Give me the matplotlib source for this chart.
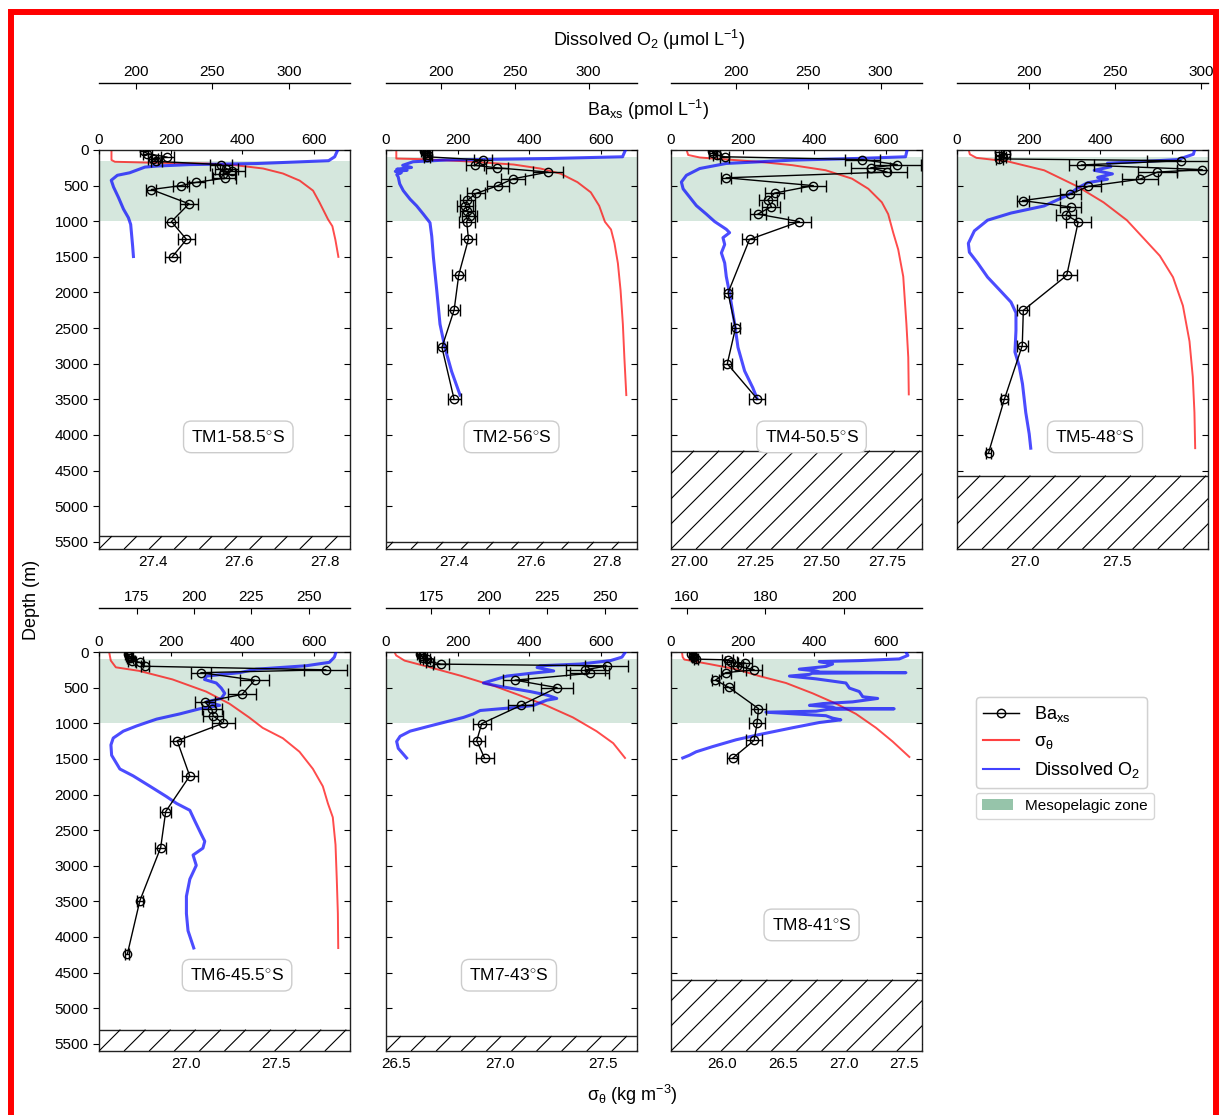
import matplotlib
matplotlib.use("Agg")
import matplotlib.pyplot as plt
import numpy as np
from matplotlib.lines import Line2D
from matplotlib.patches import Patch, Rectangle
from matplotlib.collections import LineCollection

plt.rcParams['font.family'] = ['Liberation Sans', 'DejaVu Sans']
plt.rcParams['mathtext.fontset'] = 'custom'
plt.rcParams['mathtext.rm'] = 'Liberation Sans'
plt.rcParams['mathtext.it'] = 'Liberation Sans:italic'
plt.rcParams['mathtext.bf'] = 'Liberation Sans:bold'

# ---------------- data ----------------
stations = ['TM1-58.5', 'TM2-56', 'TM4-50.5', 'TM5-48', 'TM6-45.5', 'TM7-43', 'TM8-41']
seafloor = [5420, 5500, 4220, 4570, 5300, 5390, 4600]
meso_top = [150, 100, 100, 100, 100, 100, 100]
meso_bottom = 1000
depth_ticks = [0, 500, 1000, 1500, 2000, 2500, 3000, 3500, 4000, 4500, 5000, 5500]
ba_ticks = [0, 200, 400, 600]

# TM1
ba_depth_tm1 = [20, 50, 100, 125, 160, 205, 260, 295, 330, 395, 455, 500, 555, 755, 1005, 1255, 1495]
ba_tm1 = [125, 135, 190, 150, 160, 340, 355, 372, 346, 350, 270, 228, 146, 251, 202, 244, 205]
err_tm1 = [12, 12, 18, 14, 15, 30, 32, 35, 32, 32, 25, 22, 14, 24, 18, 24, 20]
sig_depth_tm1 = [0, 140, 165, 180, 190, 215, 260, 330, 430, 570, 735, 975, 1070, 1260, 1500]
sig_tm1 = [27.303, 27.303, 27.311, 27.408, 27.524, 27.594, 27.656, 27.702, 27.741, 27.772, 27.787, 27.807, 27.817, 27.824, 27.831]
o2_depth_tm1 = [0, 95, 150, 190, 205, 225, 240, 320, 355, 425, 520, 665, 830, 950, 1045, 1210, 1355, 1495]
o2_tm1 = [332, 330, 326, 279, 235, 214, 206, 196, 188, 184, 185.5, 188.7, 192, 195.2, 196.7, 197.4, 198, 198.5]

# TM2
ba_depth_tm2 = [20, 45, 70, 95, 140, 215, 250, 310, 405, 500, 610, 705, 785, 855, 925, 1005, 1250, 1750, 2245, 2770, 3500]
ba_tm2 = [105, 112, 118, 114, 270, 247, 309, 452, 354, 312, 251, 227, 221, 227, 233, 225, 230, 203, 190, 156, 190]
err_tm2 = [8, 8, 9, 9, 25, 25, 30, 43, 33, 30, 24, 22, 22, 22, 22, 22, 22, 18, 17, 14, 18]
sig_depth_tm2 = [0, 120, 128, 157, 204, 261, 332, 451, 594, 783, 1007, 1116, 1306, 1591, 1970, 2445, 2920, 3440]
sig_tm2 = [27.248, 27.248, 27.310, 27.424, 27.555, 27.626, 27.678, 27.722, 27.757, 27.779, 27.794, 27.810, 27.819, 27.828, 27.835, 27.841, 27.845, 27.850]
o2_depth_tm2 = [0, 95, 120, 140, 165, 215, 245, 270, 285, 300, 320, 345, 380, 475, 570, 690, 785, 900, 1020, 1210, 1500, 1970, 2445, 2780, 3110, 3440]
o2_tm2 = [325, 323, 272, 204, 181, 174, 180, 170, 177, 169, 173, 170, 171, 172, 174.4, 179, 183.5, 188, 192.5, 193.7, 194.8, 197.1, 199.3, 202.7, 207.2, 212.9]

# TM4
ba_depth_tm4 = [20, 45, 70, 95, 135, 205, 250, 310, 390, 500, 605, 700, 795, 900, 1005, 1255, 2005, 2495, 3000, 3490]
ba_tm4 = [115, 117, 127, 150, 534, 631, 557, 603, 154, 397, 289, 270, 280, 242, 358, 219, 159, 180, 157, 240]
err_tm4 = [10, 10, 11, 12, 50, 65, 55, 55, 14, 35, 27, 25, 25, 23, 33, 20, 12, 12, 12, 22]
sig_depth_tm4 = [0, 70, 105, 133, 166, 213, 284, 402, 545, 734, 900, 1160, 1397, 1776, 2440, 2910, 3430]
sig_tm4 = [26.989, 26.995, 27.039, 27.139, 27.264, 27.389, 27.515, 27.615, 27.677, 27.728, 27.752, 27.771, 27.790, 27.809, 27.821, 27.828, 27.830]
o2_depth_tm4 = [0, 95, 118, 142, 189, 260, 355, 450, 545, 663, 781, 900, 1004, 1113, 1160, 1231, 1326, 1444, 1586, 1776, 2012, 2438, 2770, 3101, 3338, 3490]
o2_tm4 = [318.4, 317.3, 285, 239, 193, 174.7, 165.5, 162, 163.2, 167.8, 172.4, 179.3, 185, 193.1, 195.4, 190.8, 192, 189.7, 192, 193.1, 195.4, 198.9, 201.2, 205.8, 211.5, 214.5]

# TM5
ba_depth_tm5 = [30, 60, 100, 125, 150, 210, 275, 310, 410, 510, 620, 710, 800, 910, 1010, 1760, 2250, 2745, 3500, 4250]
ba_tm5 = [118, 136, 127, 118, 625, 347, 684, 559, 510, 366, 316, 183, 317, 304, 338, 306, 185, 182, 132, 88]
err_tm5 = [12, 12, 11, 10, 95, 35, 70, 55, 50, 35, 30, 17, 30, 28, 35, 28, 17, 16, 10, 8]
sig_depth_tm5 = [0, 60, 110, 160, 285, 510, 735, 985, 1235, 1485, 1785, 2185, 2685, 3185, 3685, 4185]
sig_tm5 = [26.691, 26.697, 26.733, 26.904, 27.103, 27.283, 27.427, 27.554, 27.644, 27.734, 27.806, 27.860, 27.896, 27.914, 27.923, 27.927]
o2_depth_tm5 = [0, 60, 135, 160, 185, 235, 285, 335, 385, 410, 460, 535, 635, 785, 885, 985, 1135, 1310, 1435, 1585, 1785, 1985, 2135, 2285, 2535, 2835, 3035, 3285, 3685, 3985, 4185]
o2_tm5 = [296.2, 295.5, 286.2, 266.8, 245.5, 247.5, 237.8, 248.4, 239.8, 245.5, 233.9, 228.1, 222.3, 208.7, 189.4, 175.8, 168.1, 164.6, 165.2, 170, 175.8, 183.6, 189.4, 192.3, 192.3, 191.7, 194.2, 196.1, 198, 200, 200.9]

# TM6
ba_depth_tm6 = [30, 50, 85, 120, 145, 200, 250, 290, 395, 595, 700, 805, 895, 1000, 1245, 1740, 2240, 2745, 3490, 4240]
ba_tm6 = [80, 84, 87, 91, 114, 128, 633, 284, 434, 399, 295, 315, 318, 346, 218, 253, 186, 172, 114, 79]
err_tm6 = [8, 8, 8, 9, 10, 11, 60, 28, 40, 38, 28, 28, 28, 32, 20, 22, 16, 15, 8, 6]
sig_depth_tm6 = [0, 120, 215, 265, 385, 555, 725, 920, 1065, 1210, 1400, 1640, 1885, 2125, 2320, 2705, 3190, 3670, 4155]
sig_tm6 = [26.576, 26.585, 26.613, 26.742, 26.926, 27.111, 27.240, 27.350, 27.424, 27.535, 27.627, 27.701, 27.756, 27.784, 27.811, 27.826, 27.833, 27.839, 27.841]
o2_depth_tm6 = [0, 72, 145, 193, 241, 290, 338, 386, 435, 507, 580, 652, 700, 749, 797, 869, 942, 1038, 1111, 1208, 1304, 1449, 1642, 1739, 1884, 2029, 2125, 2222, 2367, 2560, 2657, 2753, 2850, 2995, 3188, 3429, 3671, 3912, 4057, 4154]
o2_tm6 = [261.9, 261.2, 259.0, 248.9, 227.1, 219.9, 205.4, 204.6, 209.7, 211.9, 213.4, 211.9, 205.4, 211.2, 202.5, 193.8, 183.7, 175.0, 169.2, 164.8, 163.8, 164.1, 167.7, 173.5, 180.8, 188.0, 192.4, 198.2, 200.3, 203.2, 204.7, 203.9, 199.6, 201.0, 198.2, 196.7, 196.7, 197.4, 198.9, 199.9]

# TM7
ba_depth_tm7 = [25, 55, 85, 105, 135, 170, 195, 250, 300, 395, 500, 750, 1005, 1245, 1490]
ba_tm7 = [95, 100, 104, 114, 123, 153, 616, 556, 568, 360, 477, 376, 267, 253, 275]
err_tm7 = [8, 8, 9, 10, 11, 22, 60, 55, 55, 35, 45, 35, 25, 22, 25]
sig_depth_tm7 = [0, 48, 121, 208, 338, 483, 604, 749, 918, 1111, 1280, 1487]
sig_tm7 = [26.492, 26.500, 26.541, 26.655, 26.818, 26.980, 27.094, 27.225, 27.355, 27.469, 27.550, 27.607]
o2_depth_tm7 = [0, 72, 121, 169, 193, 217, 266, 300, 338, 435, 483, 555, 604, 652, 676, 749, 773, 821, 869, 918, 966, 1038, 1111, 1183, 1256, 1352, 1487]
o2_tm7 = [259, 257.5, 252.5, 239.5, 222.2, 220.8, 228, 217.8, 207.7, 197.6, 204.8, 217.8, 225, 229.3, 225, 219.3, 213.5, 196.2, 193.3, 189, 183.2, 174.5, 165.9, 161.6, 160.1, 160.8, 164.4]

# TM8
ba_depth_tm8 = [25, 50, 70, 100, 110, 145, 155, 195, 250, 290, 395, 495, 795, 1000, 1240, 1490]
ba_tm8 = [56, 60, 65, 70, 158, 167, 207, 183, 232, 153, 124, 161, 244, 240, 232, 172]
err_tm8 = [5, 5, 6, 6, 15, 16, 20, 17, 22, 14, 11, 15, 22, 22, 22, 16]
sig_depth_tm8 = [0, 72, 106, 169, 241, 338, 435, 580, 724, 869, 1063, 1256, 1473]
sig_tm8 = [25.670, 25.676, 25.690, 25.895, 26.115, 26.307, 26.526, 26.745, 26.937, 27.102, 27.266, 27.403, 27.541]
o2_depth_tm8 = [0, 48, 97, 121, 135, 169, 203, 241, 266, 282, 290, 298, 314, 338, 377, 435, 507, 555, 628, 652, 700, 724, 749, 773, 790, 797, 805, 831, 845, 894, 928, 952, 990, 1063, 1159, 1232, 1328, 1401, 1449, 1487]
o2_tm8 = [215.9, 216.4, 214.2, 204, 193.8, 197.2, 195.5, 188.7, 193, 194, 215.9, 192, 191.3, 186.2, 193, 200.6, 201.5, 204, 204.9, 208.7, 202.3, 194.7, 191.3, 197.2, 198, 212.9, 196, 193, 180.2, 195.5, 197.2, 199.3, 193.8, 187, 178.5, 172.6, 166.6, 162.4, 160.7, 159]

sig_ticks = [[27.4, 27.6, 27.8], [27.4, 27.6, 27.8], [27.00, 27.25, 27.50, 27.75],
             [27.0, 27.5], [27.0, 27.5], [26.5, 27.0, 27.5], [26.0, 26.5, 27.0, 27.5]]
sig_fmt = ['%.1f', '%.1f', '%.2f', '%.1f', '%.1f', '%.1f', '%.1f']
o2_ticks = [[200, 250, 300], [200, 250, 300], [200, 250, 300], [200, 250, 300],
            [175, 200, 225, 250], [175, 200, 225, 250], [160, 180, 200]]

ba_depths = [ba_depth_tm1, ba_depth_tm2, ba_depth_tm4, ba_depth_tm5, ba_depth_tm6, ba_depth_tm7, ba_depth_tm8]
ba_vals = [ba_tm1, ba_tm2, ba_tm4, ba_tm5, ba_tm6, ba_tm7, ba_tm8]
ba_errs = [err_tm1, err_tm2, err_tm4, err_tm5, err_tm6, err_tm7, err_tm8]
sig_depths = [sig_depth_tm1, sig_depth_tm2, sig_depth_tm4, sig_depth_tm5, sig_depth_tm6, sig_depth_tm7, sig_depth_tm8]
sig_vals = [sig_tm1, sig_tm2, sig_tm4, sig_tm5, sig_tm6, sig_tm7, sig_tm8]
o2_depths = [o2_depth_tm1, o2_depth_tm2, o2_depth_tm4, o2_depth_tm5, o2_depth_tm6, o2_depth_tm7, o2_depth_tm8]
o2_vals = [o2_tm1, o2_tm2, o2_tm4, o2_tm5, o2_tm6, o2_tm7, o2_tm8]

# ---------------- layout / scales ----------------
W, H = 1219, 1115
sig_lims = [(27.274, 27.858), (27.221, 27.878), (26.93, 27.88), (26.627, 27.997),
            (26.52, 27.906), (26.451, 27.665), (25.58, 27.645)]
o2_lims = [(176, 340), (162.7, 332.8), (154.8, 328.7), (158, 304),
           (158.6, 268), (155.5, 264), (156, 220)]
ba_lim = (0, 700)
depth_lim = (5600, 0)
col_left = [99, 386, 671, 957]
row_top = [150, 652]
pw, ph = 251, 399
label_pos = [(0.555, 0.281), (0.50, 0.281), (0.56, 0.281), (0.55, 0.281),
             (0.55, 0.19), (0.49, 0.19), (0.56, 0.316)]
o2_offset = [1 + 67 / ph, 1 + 44 / ph]

GREEN = '#2e8b57'
fig = plt.figure(figsize=(W / 100, H / 100), dpi=100)

for i in range(7):
    r, c = (0, i) if i < 4 else (1, i - 4)
    l = col_left[c]
    t = row_top[r]
    rect = [l / W, 1 - (t + ph) / H, pw / W, ph / H]
    ax = fig.add_axes(rect)
    axo = ax.twiny()
    axb = ax.twiny()

    # sigma (bottom) axis = main
    ax.axhspan(meso_top[i], meso_bottom, color=GREEN, alpha=0.2, lw=0, zorder=0)
    ax.plot(sig_vals[i], sig_depths[i], color='red', alpha=0.7, lw=1.4, zorder=2)
    ax.set_xlim(*sig_lims[i])
    ax.set_ylim(*depth_lim)
    ax.set_xticks(sig_ticks[i])
    ax.set_xticklabels([sig_fmt[i] % v for v in sig_ticks[i]])
    ax.tick_params(axis='x', direction='in', length=4, labelsize=11, pad=4)
    ax.set_yticks(depth_ticks)
    ax.tick_params(axis='y', left=True, right=False, direction='out' if c == 0 else 'in',
                   length=4, labelsize=11, labelleft=(c == 0))
    for s in ax.spines.values():
        s.set_linewidth(1.0)
        s.set_color('#222222')

    # O2 axis (offset top)
    axo.plot(o2_vals[i], o2_depths[i], color='blue', alpha=0.7, lw=2.2, zorder=2)
    axo.set_xlim(*o2_lims[i])
    axo.set_xticks(o2_ticks[i])
    axo.spines['top'].set_position(('axes', o2_offset[r]))
    for k in ['left', 'right', 'bottom']:
        axo.spines[k].set_visible(False)
    axo.spines['top'].set_linewidth(1.0)
    axo.tick_params(axis='x', direction='in', length=4, labelsize=11, pad=3)

    # Ba axis (top)
    axb.errorbar(ba_vals[i], ba_depths[i], xerr=ba_errs[i], fmt='-o', color='black',
                 mfc='none', mec='black', ms=6, mew=1, lw=1, elinewidth=1, capsize=4,
                 zorder=5)
    axb.set_xlim(*ba_lim)
    axb.set_xticks(ba_ticks)
    for s in axb.spines.values():
        s.set_visible(False)
    axb.tick_params(axis='x', direction='in', length=3, labelsize=11, pad=2)
    axb.yaxis.set_visible(True)
    axb.yaxis.tick_right()
    axb.tick_params(axis='y', direction='in', length=4, labelright=False, labelleft=False)
    axb.set_ylim(*depth_lim)

    # seafloor hatch
    sf = axb.axhspan(seafloor[i], depth_lim[0], facecolor='white', edgecolor='#222222',
                     lw=1, zorder=6)
    frac = (depth_lim[0] - seafloor[i]) / depth_lim[0]
    aspect = ph / pw
    segs = [[(x0, 0), (x0 + frac * aspect, frac)] for x0 in np.arange(-2.0, 1.05, 0.1)]
    lc = LineCollection(segs, colors='black', linewidths=0.8, transform=axb.transAxes,
                        zorder=6.5)
    lc.set_clip_path(sf)
    axb.add_collection(lc, autolim=False)

    # station label
    axb.text(label_pos[i][0], label_pos[i][1], stations[i] + r'$^{\circ}$S',
             transform=axb.transAxes, ha='center', va='center', fontsize=12.5, zorder=8,
             bbox=dict(boxstyle='round,pad=0.45', fc='white', ec='#cccccc', lw=1))

# figure labels
fig.text(649 / W, 1 - 40 / H, r'Dissolved O$_2$ ($\mathrm{\mu}$mol L$^{-1}$)',
         ha='center', va='center', fontsize=13)
fig.text(648 / W, 1 - 110 / H, r'Ba$_{\mathrm{xs}}$ (pmol L$^{-1}$)',
         ha='center', va='center', fontsize=13)
fig.text(32 / W, 1 - 600 / H, 'Depth (m)', rotation=90, ha='center', va='center', fontsize=13)
fig.text(632 / W, 1 - 1095 / H, r'σ$_{\mathrm{\theta}}$ (kg m$^{-3}$)',
         ha='center', va='center', fontsize=13)

# legends
h1 = [Line2D([0], [0], color='black', lw=1, marker='o', mfc='none', ms=6),
      Line2D([0], [0], color='red', alpha=0.7, lw=1.5),
      Line2D([0], [0], color='blue', alpha=0.7, lw=1.5)]
l1 = [r'Ba$_{\mathrm{xs}}$', r'σ$_{\mathrm{\theta}}$', r'Dissolved O$_2$']
leg1 = fig.legend(h1, l1, loc='upper left', bbox_to_anchor=(976 / W, 1 - 697 / H),
                  borderaxespad=0, fontsize=13, handlelength=2.0, frameon=True)
fig.add_artist(leg1)
leg2 = fig.legend([Patch(facecolor=GREEN, alpha=0.5, lw=0)], ['Mesopelagic zone'],
                  loc='upper left', bbox_to_anchor=(976 / W, 1 - 793 / H),
                  borderaxespad=0, fontsize=11, frameon=True)

# red frame
fig.add_artist(Rectangle((11.2 / W, -0.05), (1215.5 - 11.2) / W, 1 - 12.2 / H + 0.05,
                         transform=fig.transFigure, fill=False, ec='red', lw=4.3,
                         clip_on=False))

fig.savefig('out.png', dpi=100)
